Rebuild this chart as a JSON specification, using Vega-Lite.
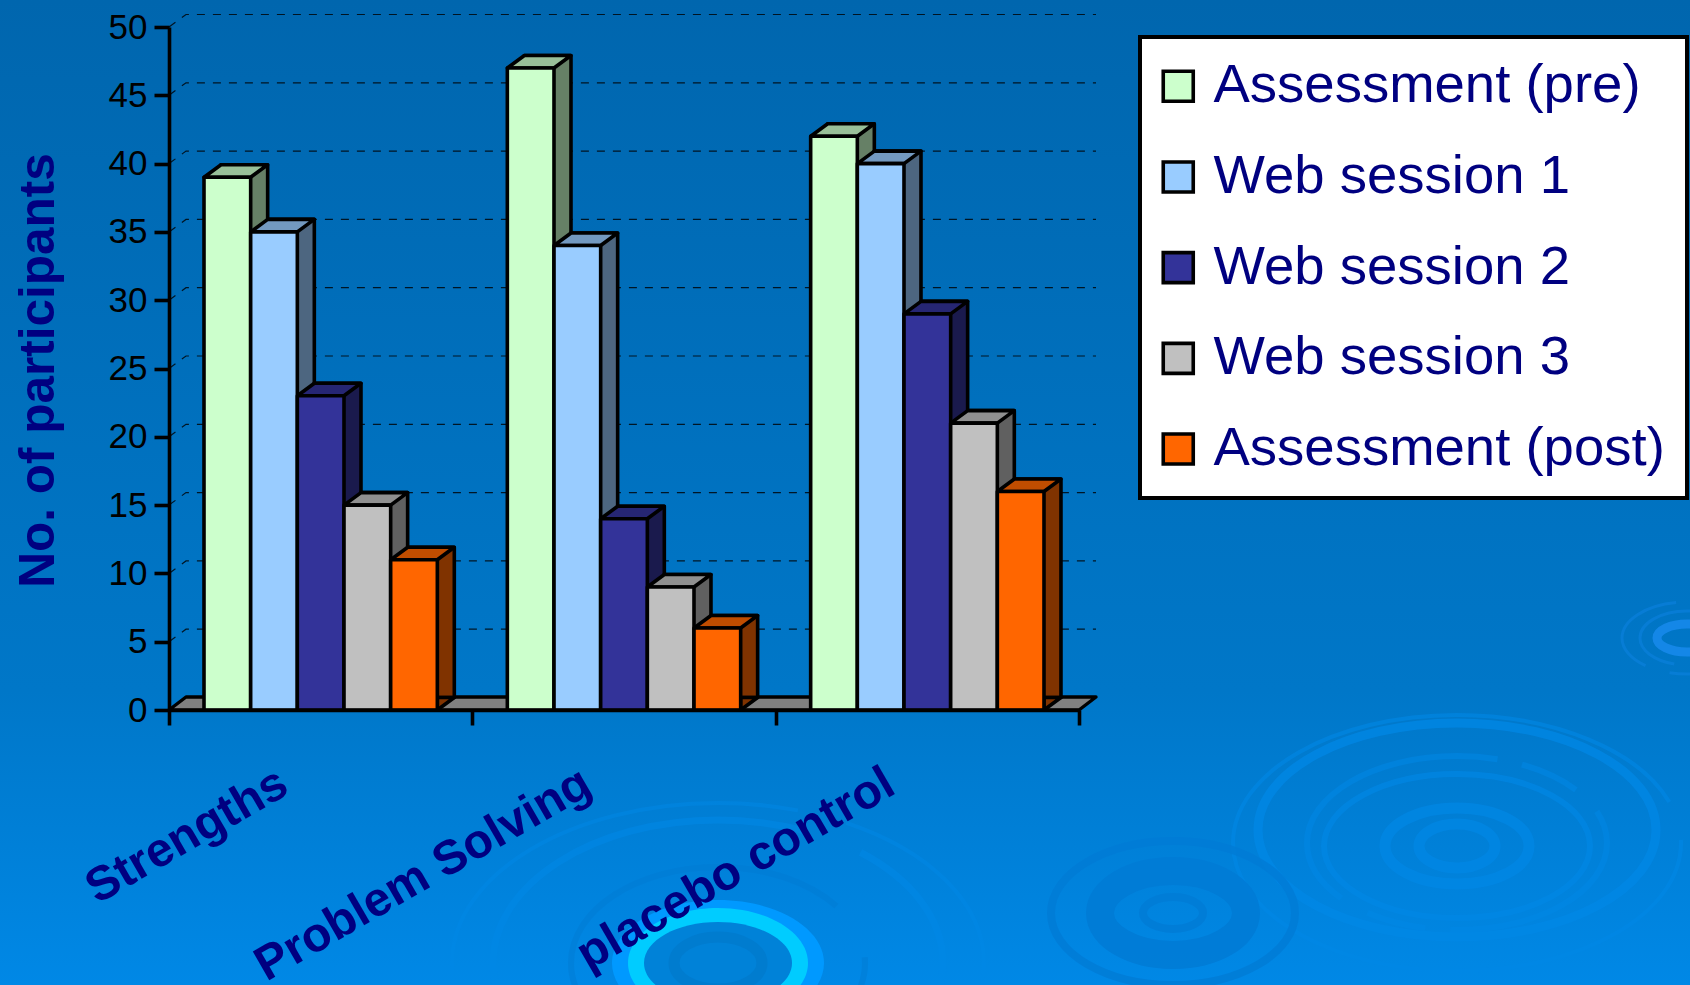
{
  "$schema": "https://vega.github.io/schema/vega-lite/v6.json",
  "width": 910,
  "height": 683,
  "autosize": "none",
  "padding": {"left": 169, "top": 27, "right": 611, "bottom": 275},
  "view": {"stroke": null},
  "datasets": {
    "scores": [
      {"category": "Strengths", "series": "Assessment (pre)", "participants": 39},
      {"category": "Strengths", "series": "Web session 1", "participants": 35},
      {"category": "Strengths", "series": "Web session 2", "participants": 23},
      {"category": "Strengths", "series": "Web session 3", "participants": 15},
      {"category": "Strengths", "series": "Assessment (post)", "participants": 11},
      {"category": "Problem Solving", "series": "Assessment (pre)", "participants": 47},
      {"category": "Problem Solving", "series": "Web session 1", "participants": 34},
      {"category": "Problem Solving", "series": "Web session 2", "participants": 14},
      {"category": "Problem Solving", "series": "Web session 3", "participants": 9},
      {"category": "Problem Solving", "series": "Assessment (post)", "participants": 6},
      {"category": "placebo control", "series": "Assessment (pre)", "participants": 42},
      {"category": "placebo control", "series": "Web session 1", "participants": 40},
      {"category": "placebo control", "series": "Web session 2", "participants": 29},
      {"category": "placebo control", "series": "Web session 3", "participants": 21},
      {"category": "placebo control", "series": "Assessment (post)", "participants": 16}
    ],
    "levels": [{"level": 5}, {"level": 10}, {"level": 15}, {"level": 20}, {"level": 25}, {"level": 30}, {"level": 35}, {"level": 40}, {"level": 45}, {"level": 50}],
    "single": [{"item": "slide"}]
  },
  "data": {"name": "scores"},
  "resolve": {"scale": {"fill": "independent", "xOffset": "independent"}},
  "layer": [
    {
      "description": "Slide backdrop, a vertical blue gradient over the whole page",
      "data": {"name": "single"},
      "mark": {"type": "rect", "fill": {"gradient": "linear", "x1": 0, "y1": 0, "x2": 0, "y2": 1, "stops": [{"offset": 0, "color": "#0066AE"}, {"offset": 0.7, "color": "#0077C8"}, {"offset": 1, "color": "#0088E6"}]}},
      "encoding": {"x": {"value": -169}, "x2": {"value": 1521}, "y": {"value": -27}, "y2": {"value": 958}}
    },
    {
      "description": "Large water ripple at lower right, light rings",
      "data": {"name": "single"},
      "mark": {"type": "point", "shape": "M-72,0A72,38 0 1 1 72,0A72,38 0 1 1 -72,0ZM-38,0A38,22 0 1 1 38,0A38,22 0 1 1 -38,0Z", "size": 4, "filled": false, "stroke": "#0088E6", "strokeWidth": 11, "opacity": 0.7},
      "encoding": {"x": {"value": 1288}, "y": {"value": 819}}
    },
    {
      "data": {"name": "single"},
      "mark": {"type": "point", "shape": "M-133,0A133,72 0 1 1 133,0A133,72 0 1 1 -133,0Z", "size": 4, "filled": false, "stroke": "#0088E6", "strokeWidth": 6, "opacity": 0.65},
      "encoding": {"x": {"value": 1288}, "y": {"value": 819}}
    },
    {
      "data": {"name": "single"},
      "mark": {"type": "point", "shape": "M-199,0A199,107 0 1 1 199,0A199,107 0 1 1 -199,0Z", "size": 4, "filled": false, "stroke": "#0088E6", "strokeWidth": 9, "opacity": 0.75},
      "encoding": {"x": {"value": 1288}, "y": {"value": 803}}
    },
    {
      "data": {"name": "single"},
      "mark": {"type": "point", "shape": "M-150,0A150,87 0 1 1 150,0A150,87 0 1 1 -150,0Z", "size": 4, "filled": false, "stroke": "#0088E6", "strokeWidth": 6, "strokeDash": [230, 25, 60, 30], "opacity": 0.55},
      "encoding": {"x": {"value": 1288}, "y": {"value": 816}}
    },
    {
      "data": {"name": "single"},
      "mark": {"type": "point", "shape": "M-224,0A224,128 0 1 1 224,0A224,128 0 1 1 -224,0Z", "size": 4, "filled": false, "stroke": "#0088E6", "strokeWidth": 4, "strokeDash": [520, 40, 300, 20], "opacity": 0.6},
      "encoding": {"x": {"value": 1288}, "y": {"value": 816}}
    },
    {
      "description": "Second ripple, dark rings",
      "data": {"name": "single"},
      "mark": {"type": "point", "shape": "M-73,0A73,42 0 1 1 73,0A73,42 0 1 1 -73,0Z", "size": 4, "filled": false, "stroke": "#007CD6", "strokeWidth": 28, "opacity": 0.9},
      "encoding": {"x": {"value": 1004}, "y": {"value": 886}}
    },
    {
      "data": {"name": "single"},
      "mark": {"type": "point", "shape": "M-30,0A30,16 0 1 1 30,0A30,16 0 1 1 -30,0ZM-122,0A122,72 0 1 1 122,0A122,72 0 1 1 -122,0Z", "size": 4, "filled": false, "stroke": "#007CD6", "strokeWidth": 8, "opacity": 0.8},
      "encoding": {"x": {"value": 1004}, "y": {"value": 886}}
    },
    {
      "description": "Bright ripple at the bottom edge",
      "data": {"name": "single"},
      "mark": {"type": "point", "shape": "M-106,0A106,63 0 1 1 106,0A106,63 0 1 1 -106,0Z", "size": 4, "filled": true, "fill": "#0099FF", "opacity": 1},
      "encoding": {"x": {"value": 549}, "y": {"value": 936}}
    },
    {
      "data": {"name": "single"},
      "mark": {"type": "point", "shape": "M-90,0A90,55 0 1 1 90,0A90,55 0 1 1 -90,0Z", "size": 4, "filled": true, "fill": "#00CCFF", "opacity": 1},
      "encoding": {"x": {"value": 549}, "y": {"value": 936}}
    },
    {
      "data": {"name": "single"},
      "mark": {"type": "point", "shape": "M-74,0A74,41 0 1 1 74,0A74,41 0 1 1 -74,0Z", "size": 4, "filled": true, "fill": "#0082D8", "opacity": 1},
      "encoding": {"x": {"value": 549}, "y": {"value": 936}}
    },
    {
      "data": {"name": "single"},
      "mark": {"type": "point", "shape": "M-44,0A44,26 0 1 1 44,0A44,26 0 1 1 -44,0Z", "size": 4, "filled": false, "stroke": "#007ACC", "strokeWidth": 11, "opacity": 0.75},
      "encoding": {"x": {"value": 549}, "y": {"value": 936}}
    },
    {
      "data": {"name": "single"},
      "mark": {"type": "point", "shape": "M-147,0A147,96 0 1 1 147,0A147,96 0 1 1 -147,0Z", "size": 4, "filled": false, "stroke": "#007CD4", "strokeWidth": 6, "strokeDash": [320, 60, 120, 50], "opacity": 0.5},
      "encoding": {"x": {"value": 549}, "y": {"value": 936}}
    },
    {
      "data": {"name": "single"},
      "mark": {"type": "point", "shape": "M-225,0A225,143 0 1 1 225,0A225,143 0 1 1 -225,0Z", "size": 4, "filled": false, "stroke": "#0088E6", "strokeWidth": 7, "strokeDash": [380, 60, 200, 40], "opacity": 0.6},
      "encoding": {"x": {"value": 549}, "y": {"value": 936}}
    },
    {
      "data": {"name": "single"},
      "mark": {"type": "point", "shape": "M-266,0A266,160 0 1 1 266,0A266,160 0 1 1 -266,0Z", "size": 4, "filled": false, "stroke": "#0088E6", "strokeWidth": 4, "strokeDash": [420, 50, 250, 60], "opacity": 0.5},
      "encoding": {"x": {"value": 549}, "y": {"value": 936}}
    },
    {
      "description": "Small ripple on the right edge",
      "data": {"name": "single"},
      "mark": {"type": "point", "shape": "M-30,0A30,14 0 1 1 30,0A30,14 0 1 1 -30,0Z", "size": 4, "filled": false, "stroke": "#1A8CF0", "strokeWidth": 9, "opacity": 0.8},
      "encoding": {"x": {"value": 1518}, "y": {"value": 611}}
    },
    {
      "data": {"name": "single"},
      "mark": {"type": "point", "shape": "M-47,0A47,27 0 1 1 47,0A47,27 0 1 1 -47,0ZM-65,0A65,36 0 1 1 65,0A65,36 0 1 1 -65,0Z", "size": 4, "filled": false, "stroke": "#0A80DC", "strokeWidth": 3, "strokeDash": [70, 25], "opacity": 0.7},
      "encoding": {"x": {"value": 1518}, "y": {"value": 611}}
    },
    {
      "description": "Back wall gridlines with the short diagonal run to each y tick",
      "data": {"name": "levels"},
      "mark": {"type": "point", "shape": "M0,0L17,-12.5L927,-12.5", "size": 4, "filled": false, "stroke": "#000000", "strokeWidth": 1.2, "strokeDash": [8, 8], "opacity": 0.8},
      "encoding": {
        "x": {"datum": "Strengths", "bandPosition": 0, "type": "nominal", "scale": {"type": "band", "domain": ["Strengths", "Problem Solving", "placebo control"], "padding": 0},
          "axis": {
            "title": null, "zindex": 1, "tickBand": "extent", "domainColor": "#000000", "domainWidth": 3.6, "tickColor": "#000000", "tickWidth": 3.6, "tickSize": 15,
            "labelAngle": -30, "labelAlign": "right", "labelBaseline": "top", "labelFont": "Liberation Sans", "labelFontWeight": "bold", "labelFontSize": 48, "labelColor": "#000080", "labelPadding": 34, "labelOffset": -49, "labelOverlap": false, "labelBound": false, "labelFlush": false, "labelLimit": 600, "grid": false
          }
        },
        "y": {"field": "level", "type": "quantitative", "scale": {"domain": [0, 50], "nice": false},
          "axis": {
            "title": "No. of participants", "zindex": 1, "titleFont": "Liberation Sans", "titleFontWeight": "bold", "titleFontSize": 49.5, "titleColor": "#000080", "titleX": -131, "titleY": 343, "titleAngle": -90, "titleAlign": "center", "titleBaseline": "middle",
            "values": [0, 5, 10, 15, 20, 25, 30, 35, 40, 45, 50], "grid": false, "domainColor": "#000000", "domainWidth": 3.6, "tickColor": "#000000", "tickWidth": 3.6, "tickSize": 15,
            "labelFont": "Liberation Sans", "labelFontSize": 35, "labelColor": "#000000", "labelPadding": 7
          }
        }
      }
    },
    {
      "description": "Grey floor of the chart box",
      "data": {"name": "single"},
      "mark": {"type": "point", "shape": "M0,0L17,-13L927,-13L910,0Z", "size": 4, "filled": true, "fill": "#808080", "stroke": "#000000", "strokeWidth": 3.4, "strokeJoin": "round", "opacity": 1},
      "encoding": {
        "x": {"datum": "Strengths", "bandPosition": 0, "type": "nominal"},
        "y": {"datum": 0, "type": "quantitative"}
      }
    },
    {
      "description": "Side face of each bar",
      "mark": {"type": "bar", "yOffset": -12.5, "stroke": "#000000", "strokeWidth": 3.6, "strokeJoin": "round"},
      "encoding": {
        "x": {"field": "category", "type": "nominal"},
        "xOffset": {"field": "series", "type": "nominal", "scale": {"type": "band", "domain": ["Assessment (pre)", "Web session 1", "Web session 2", "Web session 3", "Assessment (post)"], "paddingInner": 0, "paddingOuter": 0.75, "range": [17, 320.3]}},
        "y": {"field": "participants", "type": "quantitative"},
        "fill": {"field": "series", "type": "nominal", "legend": null, "scale": {"domain": ["Assessment (pre)", "Web session 1", "Web session 2", "Web session 3", "Assessment (post)"], "range": ["#668066", "#4D6680", "#1A1A4D", "#606060", "#803300"]}}
      }
    },
    {
      "description": "Lower corner of the side face where it meets the floor",
      "mark": {"type": "point", "shape": "M23.3,0L40.3,-12.5L23.3,-12.5Z", "size": 4, "filled": true, "stroke": "#000000", "strokeWidth": 3.6, "strokeJoin": "round", "opacity": 1},
      "encoding": {
        "x": {"field": "category", "type": "nominal"},
        "xOffset": {"field": "series", "type": "nominal", "scale": {"type": "band", "domain": ["Assessment (pre)", "Web session 1", "Web session 2", "Web session 3", "Assessment (post)"], "paddingInner": 0, "paddingOuter": 0.75}},
        "y": {"datum": 0, "type": "quantitative"},
        "fill": {"field": "series", "type": "nominal", "legend": null, "scale": {"domain": ["Assessment (pre)", "Web session 1", "Web session 2", "Web session 3", "Assessment (post)"], "range": ["#668066", "#4D6680", "#1A1A4D", "#606060", "#803300"]}}
      }
    },
    {
      "description": "Top face of each bar",
      "mark": {"type": "point", "shape": "M-23.3,0L-6.3,-12.5L40.3,-12.5L23.3,0Z", "size": 4, "filled": true, "stroke": "#000000", "strokeWidth": 3.6, "strokeJoin": "round", "opacity": 1},
      "encoding": {
        "x": {"field": "category", "type": "nominal"},
        "xOffset": {"field": "series", "type": "nominal", "scale": {"type": "band", "domain": ["Assessment (pre)", "Web session 1", "Web session 2", "Web session 3", "Assessment (post)"], "paddingInner": 0, "paddingOuter": 0.75}},
        "y": {"field": "participants", "type": "quantitative"},
        "fill": {"field": "series", "type": "nominal", "legend": null, "scale": {"domain": ["Assessment (pre)", "Web session 1", "Web session 2", "Web session 3", "Assessment (post)"], "range": ["#99C099", "#7399C0", "#262673", "#909090", "#C04D00"]}}
      }
    },
    {
      "description": "Front face of each bar, carrying the legend",
      "mark": {"type": "bar", "stroke": "#000000", "strokeWidth": 3.6, "strokeJoin": "round"},
      "encoding": {
        "x": {"field": "category", "type": "nominal"},
        "xOffset": {"field": "series", "type": "nominal", "scale": {"type": "band", "domain": ["Assessment (pre)", "Web session 1", "Web session 2", "Web session 3", "Assessment (post)"], "paddingInner": 0, "paddingOuter": 0.75}},
        "y": {"field": "participants", "type": "quantitative"},
        "fill": {
          "field": "series", "type": "nominal",
          "scale": {"domain": ["Assessment (pre)", "Web session 1", "Web session 2", "Web session 3", "Assessment (post)"], "range": ["#CCFFCC", "#99CCFF", "#333399", "#C0C0C0", "#FF6600"]},
          "legend": {
            "orient": "none", "legendX": 971, "legendY": 10, "title": null, "padding": 22, "rowPadding": 35.7, "fillColor": "#FFFFFF", "strokeColor": "#000000",
            "symbolType": "square", "symbolSize": 900, "symbolOffset": -11, "symbolStrokeColor": "#000000", "symbolStrokeWidth": 3.6, "symbolOpacity": 1,
            "labelFont": "Liberation Sans", "labelFontSize": 54.5, "labelColor": "#000080", "labelOffset": 8, "labelLimit": 600,
            "encode": {"legend": {"update": {"strokeWidth": {"value": 4}}}}
          }
        }
      }
    }
  ]
}
